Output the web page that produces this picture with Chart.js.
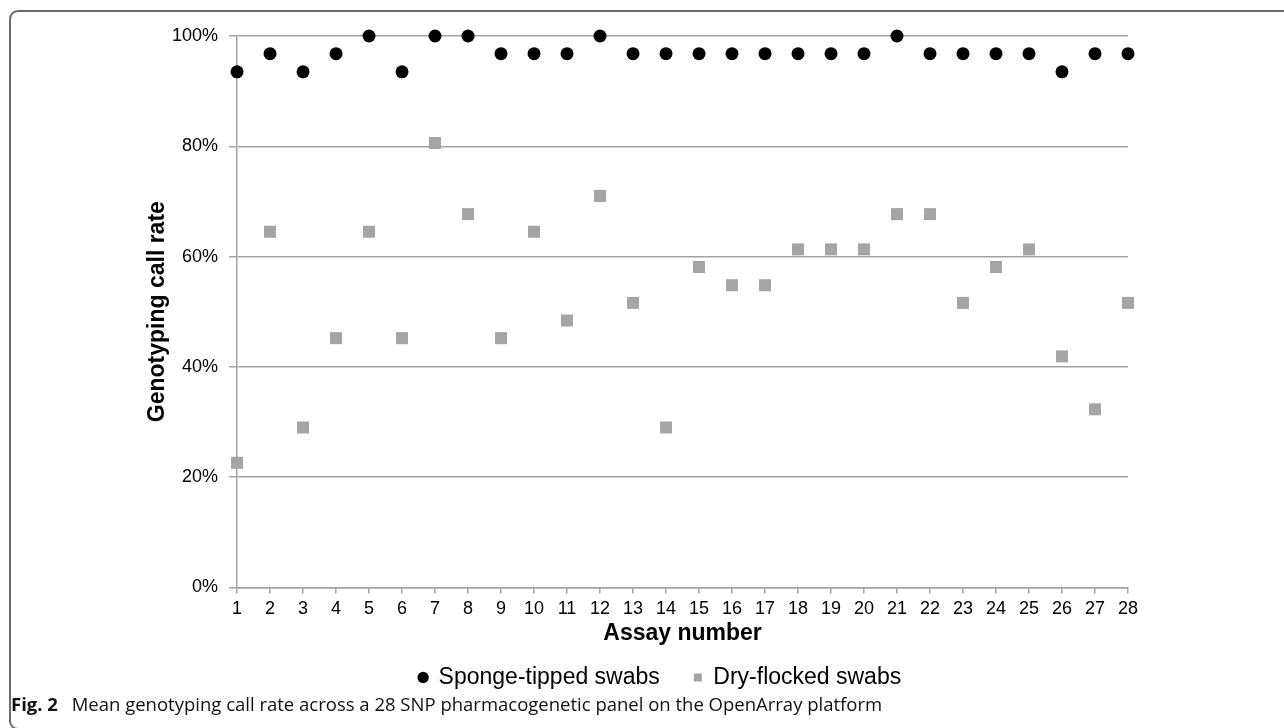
<!DOCTYPE html>
<html>
<head>
<meta charset="utf-8">
<script src="https://cdn.jsdelivr.net/npm/chart.js@4.4.1/dist/chart.umd.min.js"></script>
<style>
  body { margin: 0; background: #fff; width: 1284px; height: 728px; overflow: hidden; position: relative; }
  #frame { position: absolute; left: 9px; top: 10px; width: 1300px; height: 716px;
           border-left: 2px solid #6b6b6b; border-top: 2px solid #6b6b6b; border-bottom: 2px solid #6b6b6b;
           border-radius: 9px 0 0 9px; }
  #wrap { position: absolute; left: 0; top: 0; width: 1284px; height: 703px; }
  #caption { position: absolute; left: 11px; top: 691px; font-family: "Open Sans", sans-serif; font-size: 18.5px; color: #111; white-space: nowrap; }
  #caption b { font-weight: 700; margin-right: 9px; }
</style>
</head>
<body>
<div id="frame"></div>
<div id="wrap"><canvas id="callChart" width="1284" height="703"></canvas></div>
<div id="caption"><b>Fig. 2</b> Mean genotyping call rate across a 28 SNP pharmacogenetic panel on the OpenArray platform</div>
<script>
const assays = ["1","2","3","4","5","6","7","8","9","10","11","12","13","14","15","16","17","18","19","20","21","22","23","24","25","26","27","28"];
const sponge = [93.5,96.8,93.5,96.8,100,93.5,100,100,96.8,96.8,96.8,100,96.8,96.8,96.8,96.8,96.8,96.8,96.8,96.8,100,96.8,96.8,96.8,96.8,93.5,96.8,96.8];
const dryFlocked = [22.6,64.5,29.0,45.2,64.5,45.2,80.6,67.7,45.2,64.5,48.4,71.0,51.6,29.0,58.1,54.8,54.8,61.3,61.3,61.3,67.7,67.7,51.6,58.1,61.3,41.9,32.3,51.6];
const yTicks = [0,20,40,60,80,100];

const gridCol = "#a3a3a3";
const font = "'Liberation Sans', Arial, sans-serif";

new Chart("callChart", {
    type: "line",
    data: {
        labels: assays,
        datasets: [{
            label: "Sponge-tipped swabs",
            data: sponge,
            showLine: false,
            pointStyle: "circle",
            pointRadius: 6.5,
            pointBorderWidth: 0,
            backgroundColor: "#000",
            borderColor: "#000",
            clip: false
        }, {
            label: "Dry-flocked swabs",
            data: dryFlocked,
            showLine: false,
            pointStyle: "rect",
            pointRadius: 8.5,
            pointBorderWidth: 0,
            backgroundColor: "#a5a5a5",
            borderColor: "#a5a5a5",
            clip: false
        }]
    },
    options: {
        responsive: false,
        animation: false,
        layout: {padding: {left: 146, right: 156, top: 36, bottom: 4}},
        plugins: {
            tooltip: {enabled: false},
            legend: {
                position: "bottom",
                fullSize: false,
                labels: {
                    usePointStyle: true,
                    boxWidth: 8,
                    boxHeight: 8,
                    padding: 34,
                    color: "#000",
                    font: {family: font, size: 23},
                    // nudge the legend a little left, like the original
                    generateLabels: (chart) => {
                        const items = Chart.defaults.plugins.legend.labels.generateLabels(chart);
                        items[1].text += "\u00a0".repeat(7);
                        return items;
                    }
                }
            }
        },
        scales: {
            x: {
                offset: false,
                grid: {display: true, drawOnChartArea: false, drawTicks: true, tickLength: 6, color: gridCol, lineWidth: 1.5},
                border: {color: gridCol, width: 1.5},
                ticks: {color: "#000", font: {family: font, size: 18}, padding: 5, maxRotation: 0, autoSkip: false},
                title: {display: true, text: "Assay number", color: "#000", font: {family: font, size: 23, weight: "bold", lineHeight: 1}, padding: {top: -3, bottom: -13}}
            },
            y: {
                min: 0,
                max: 100,
                afterBuildTicks: (axis) => { axis.ticks = yTicks.map(v => ({value: v})); },
                grid: {color: gridCol, lineWidth: 1.5, tickLength: 8},
                border: {color: gridCol, width: 1.5},
                ticks: {color: "#000", font: {family: font, size: 18}, padding: 11, callback: (v) => v + "%"},
                title: {display: true, text: "Genotyping call rate", color: "#000", font: {family: font, size: 23, weight: "bold", lineHeight: 1}, padding: {top: 0, bottom: -8}}
            }
        }
    }
});
</script>
</body>
</html>
